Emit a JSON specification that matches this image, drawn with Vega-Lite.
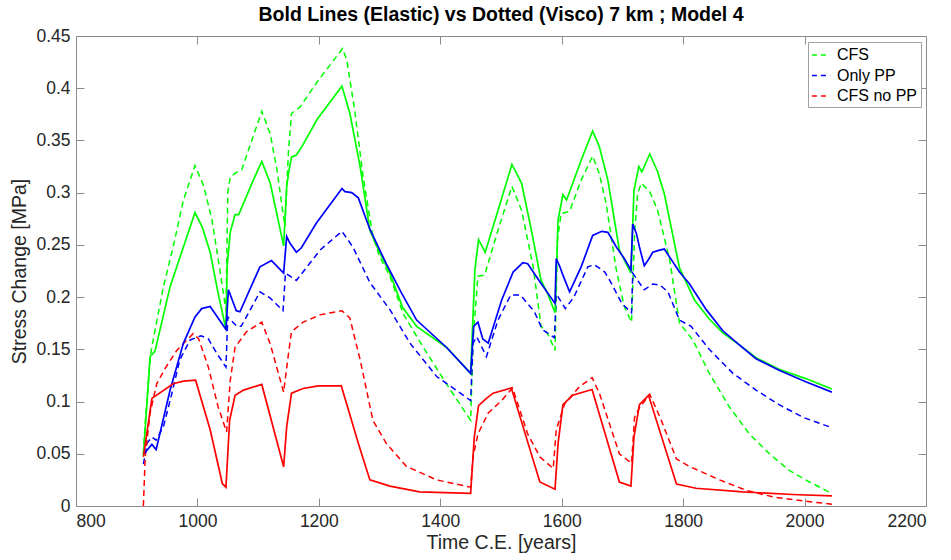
{
  "$schema": "https://vega.github.io/schema/vega-lite/v6.json",
  "width": 850,
  "height": 470,
  "autosize": {"type": "none"},
  "padding": {"left": 76, "top": 36, "right": 25, "bottom": 54},
  "background": "white",
  "title": {
    "text": "Bold Lines (Elastic) vs Dotted (Visco) 7 km ; Model 4",
    "font": "Liberation Sans",
    "fontSize": 19.5,
    "fontWeight": "bold",
    "color": "black",
    "anchor": "middle",
    "offset": 2
  },
  "config": {
    "font": "Liberation Sans",
    "view": {"stroke": "#8c8c8c", "strokeWidth": 1},
    "axis": {
      "grid": false,
      "domain": false,
      "tickColor": "#8c8c8c",
      "tickSize": -8,
      "labelFont": "Liberation Sans",
      "labelFontSize": 17.5,
      "labelColor": "#262626",
      "titleFont": "Liberation Sans",
      "titleFontSize": 19.5,
      "titleFontWeight": "normal",
      "titleColor": "#262626"
    }
  },
  "data": {
    "values": [
      {"s":"CFS","k":"Visco","t":911,"v":0.05},{"s":"CFS","k":"Visco","t":914,"v":0.08},{"s":"CFS","k":"Visco","t":923,"v":0.146},{"s":"CFS","k":"Visco","t":928,"v":0.162},{"s":"CFS","k":"Visco","t":944,"v":0.21},{"s":"CFS","k":"Visco","t":960,"v":0.248},{"s":"CFS","k":"Visco","t":977,"v":0.293},{"s":"CFS","k":"Visco","t":996,"v":0.326},{"s":"CFS","k":"Visco","t":1010,"v":0.307},{"s":"CFS","k":"Visco","t":1024,"v":0.274},{"s":"CFS","k":"Visco","t":1037,"v":0.226},{"s":"CFS","k":"Visco","t":1047,"v":0.187},{"s":"CFS","k":"Visco","t":1050,"v":0.3},{"s":"CFS","k":"Visco","t":1054,"v":0.315},{"s":"CFS","k":"Visco","t":1063,"v":0.319},{"s":"CFS","k":"Visco","t":1073,"v":0.322},{"s":"CFS","k":"Visco","t":1106,"v":0.378},{"s":"CFS","k":"Visco","t":1120,"v":0.356},{"s":"CFS","k":"Visco","t":1131,"v":0.322},{"s":"CFS","k":"Visco","t":1141,"v":0.28},{"s":"CFS","k":"Visco","t":1144,"v":0.268},{"s":"CFS","k":"Visco","t":1150,"v":0.34},{"s":"CFS","k":"Visco","t":1155,"v":0.376},{"s":"CFS","k":"Visco","t":1169,"v":0.382},{"s":"CFS","k":"Visco","t":1196,"v":0.405},{"s":"CFS","k":"Visco","t":1239,"v":0.438},{"s":"CFS","k":"Visco","t":1246,"v":0.427},{"s":"CFS","k":"Visco","t":1259,"v":0.379},{"s":"CFS","k":"Visco","t":1273,"v":0.315},{"s":"CFS","k":"Visco","t":1289,"v":0.258},{"s":"CFS","k":"Visco","t":1300,"v":0.239},{"s":"CFS","k":"Visco","t":1317,"v":0.22},{"s":"CFS","k":"Visco","t":1339,"v":0.184},{"s":"CFS","k":"Visco","t":1372,"v":0.152},{"s":"CFS","k":"Visco","t":1410,"v":0.117},{"s":"CFS","k":"Visco","t":1450,"v":0.082},{"s":"CFS","k":"Visco","t":1454,"v":0.159},{"s":"CFS","k":"Visco","t":1462,"v":0.22},{"s":"CFS","k":"Visco","t":1473,"v":0.221},{"s":"CFS","k":"Visco","t":1495,"v":0.264},{"s":"CFS","k":"Visco","t":1518,"v":0.306},{"s":"CFS","k":"Visco","t":1534,"v":0.283},{"s":"CFS","k":"Visco","t":1553,"v":0.229},{"s":"CFS","k":"Visco","t":1566,"v":0.172},{"s":"CFS","k":"Visco","t":1577,"v":0.165},{"s":"CFS","k":"Visco","t":1589,"v":0.149},{"s":"CFS","k":"Visco","t":1593,"v":0.255},{"s":"CFS","k":"Visco","t":1599,"v":0.28},{"s":"CFS","k":"Visco","t":1613,"v":0.282},{"s":"CFS","k":"Visco","t":1632,"v":0.312},{"s":"CFS","k":"Visco","t":1651,"v":0.335},{"s":"CFS","k":"Visco","t":1662,"v":0.318},{"s":"CFS","k":"Visco","t":1673,"v":0.29},{"s":"CFS","k":"Visco","t":1690,"v":0.226},{"s":"CFS","k":"Visco","t":1703,"v":0.191},{"s":"CFS","k":"Visco","t":1715,"v":0.176},{"s":"CFS","k":"Visco","t":1720,"v":0.261},{"s":"CFS","k":"Visco","t":1725,"v":0.299},{"s":"CFS","k":"Visco","t":1731,"v":0.309},{"s":"CFS","k":"Visco","t":1745,"v":0.301},{"s":"CFS","k":"Visco","t":1758,"v":0.283},{"s":"CFS","k":"Visco","t":1778,"v":0.235},{"s":"CFS","k":"Visco","t":1794,"v":0.175},{"s":"CFS","k":"Visco","t":1816,"v":0.159},{"s":"CFS","k":"Visco","t":1843,"v":0.127},{"s":"CFS","k":"Visco","t":1876,"v":0.095},{"s":"CFS","k":"Visco","t":1909,"v":0.069},{"s":"CFS","k":"Visco","t":1942,"v":0.05},{"s":"CFS","k":"Visco","t":1975,"v":0.034},{"s":"CFS","k":"Visco","t":2008,"v":0.023},{"s":"CFS","k":"Visco","t":2045,"v":0.012},

      {"s":"Only PP","k":"Visco","t":911,"v":0.04},{"s":"Only PP","k":"Visco","t":917,"v":0.06},{"s":"Only PP","k":"Visco","t":925,"v":0.066},{"s":"Only PP","k":"Visco","t":932,"v":0.063},{"s":"Only PP","k":"Visco","t":944,"v":0.076},{"s":"Only PP","k":"Visco","t":958,"v":0.108},{"s":"Only PP","k":"Visco","t":971,"v":0.14},{"s":"Only PP","k":"Visco","t":988,"v":0.159},{"s":"Only PP","k":"Visco","t":1006,"v":0.163},{"s":"Only PP","k":"Visco","t":1018,"v":0.16},{"s":"Only PP","k":"Visco","t":1032,"v":0.146},{"s":"Only PP","k":"Visco","t":1047,"v":0.133},{"s":"Only PP","k":"Visco","t":1050,"v":0.181},{"s":"Only PP","k":"Visco","t":1065,"v":0.172},{"s":"Only PP","k":"Visco","t":1072,"v":0.172},{"s":"Only PP","k":"Visco","t":1103,"v":0.205},{"s":"Only PP","k":"Visco","t":1120,"v":0.199},{"s":"Only PP","k":"Visco","t":1141,"v":0.187},{"s":"Only PP","k":"Visco","t":1145,"v":0.223},{"s":"Only PP","k":"Visco","t":1163,"v":0.216},{"s":"Only PP","k":"Visco","t":1202,"v":0.245},{"s":"Only PP","k":"Visco","t":1238,"v":0.263},{"s":"Only PP","k":"Visco","t":1256,"v":0.248},{"s":"Only PP","k":"Visco","t":1284,"v":0.214},{"s":"Only PP","k":"Visco","t":1317,"v":0.188},{"s":"Only PP","k":"Visco","t":1350,"v":0.156},{"s":"Only PP","k":"Visco","t":1394,"v":0.124},{"s":"Only PP","k":"Visco","t":1450,"v":0.101},{"s":"Only PP","k":"Visco","t":1454,"v":0.156},{"s":"Only PP","k":"Visco","t":1460,"v":0.162},{"s":"Only PP","k":"Visco","t":1476,"v":0.143},{"s":"Only PP","k":"Visco","t":1495,"v":0.178},{"s":"Only PP","k":"Visco","t":1516,"v":0.202},{"s":"Only PP","k":"Visco","t":1532,"v":0.202},{"s":"Only PP","k":"Visco","t":1555,"v":0.186},{"s":"Only PP","k":"Visco","t":1568,"v":0.169},{"s":"Only PP","k":"Visco","t":1588,"v":0.161},{"s":"Only PP","k":"Visco","t":1591,"v":0.203},{"s":"Only PP","k":"Visco","t":1606,"v":0.189},{"s":"Only PP","k":"Visco","t":1620,"v":0.2},{"s":"Only PP","k":"Visco","t":1643,"v":0.229},{"s":"Only PP","k":"Visco","t":1654,"v":0.231},{"s":"Only PP","k":"Visco","t":1671,"v":0.224},{"s":"Only PP","k":"Visco","t":1682,"v":0.213},{"s":"Only PP","k":"Visco","t":1699,"v":0.194},{"s":"Only PP","k":"Visco","t":1715,"v":0.185},{"s":"Only PP","k":"Visco","t":1717,"v":0.223},{"s":"Only PP","k":"Visco","t":1725,"v":0.216},{"s":"Only PP","k":"Visco","t":1736,"v":0.207},{"s":"Only PP","k":"Visco","t":1750,"v":0.2125},{"s":"Only PP","k":"Visco","t":1762,"v":0.2115},{"s":"Only PP","k":"Visco","t":1775,"v":0.205},{"s":"Only PP","k":"Visco","t":1794,"v":0.178},{"s":"Only PP","k":"Visco","t":1813,"v":0.172},{"s":"Only PP","k":"Visco","t":1843,"v":0.15},{"s":"Only PP","k":"Visco","t":1882,"v":0.127},{"s":"Only PP","k":"Visco","t":1920,"v":0.111},{"s":"Only PP","k":"Visco","t":1958,"v":0.097},{"s":"Only PP","k":"Visco","t":1997,"v":0.085},{"s":"Only PP","k":"Visco","t":2045,"v":0.075},

      {"s":"CFS no PP","k":"Visco","t":911,"v":0.0},{"s":"CFS no PP","k":"Visco","t":914,"v":0.047},{"s":"CFS no PP","k":"Visco","t":922,"v":0.089},{"s":"CFS no PP","k":"Visco","t":933,"v":0.117},{"s":"CFS no PP","k":"Visco","t":947,"v":0.132},{"s":"CFS no PP","k":"Visco","t":966,"v":0.149},{"s":"CFS no PP","k":"Visco","t":993,"v":0.165},{"s":"CFS no PP","k":"Visco","t":1002,"v":0.16},{"s":"CFS no PP","k":"Visco","t":1018,"v":0.133},{"s":"CFS no PP","k":"Visco","t":1034,"v":0.095},{"s":"CFS no PP","k":"Visco","t":1048,"v":0.071},{"s":"CFS no PP","k":"Visco","t":1054,"v":0.12},{"s":"CFS no PP","k":"Visco","t":1062,"v":0.152},{"s":"CFS no PP","k":"Visco","t":1081,"v":0.167},{"s":"CFS no PP","k":"Visco","t":1106,"v":0.176},{"s":"CFS no PP","k":"Visco","t":1120,"v":0.155},{"s":"CFS no PP","k":"Visco","t":1142,"v":0.109},{"s":"CFS no PP","k":"Visco","t":1150,"v":0.146},{"s":"CFS no PP","k":"Visco","t":1155,"v":0.167},{"s":"CFS no PP","k":"Visco","t":1174,"v":0.176},{"s":"CFS no PP","k":"Visco","t":1202,"v":0.183},{"s":"CFS no PP","k":"Visco","t":1238,"v":0.187},{"s":"CFS no PP","k":"Visco","t":1251,"v":0.18},{"s":"CFS no PP","k":"Visco","t":1268,"v":0.14},{"s":"CFS no PP","k":"Visco","t":1289,"v":0.082},{"s":"CFS no PP","k":"Visco","t":1311,"v":0.06},{"s":"CFS no PP","k":"Visco","t":1344,"v":0.038},{"s":"CFS no PP","k":"Visco","t":1394,"v":0.025},{"s":"CFS no PP","k":"Visco","t":1450,"v":0.018},{"s":"CFS no PP","k":"Visco","t":1454,"v":0.047},{"s":"CFS no PP","k":"Visco","t":1462,"v":0.069},{"s":"CFS no PP","k":"Visco","t":1479,"v":0.089},{"s":"CFS no PP","k":"Visco","t":1501,"v":0.101},{"s":"CFS no PP","k":"Visco","t":1519,"v":0.113},{"s":"CFS no PP","k":"Visco","t":1544,"v":0.069},{"s":"CFS no PP","k":"Visco","t":1564,"v":0.047},{"s":"CFS no PP","k":"Visco","t":1586,"v":0.036},{"s":"CFS no PP","k":"Visco","t":1591,"v":0.073},{"s":"CFS no PP","k":"Visco","t":1605,"v":0.098},{"s":"CFS no PP","k":"Visco","t":1629,"v":0.114},{"s":"CFS no PP","k":"Visco","t":1650,"v":0.123},{"s":"CFS no PP","k":"Visco","t":1662,"v":0.108},{"s":"CFS no PP","k":"Visco","t":1695,"v":0.05},{"s":"CFS no PP","k":"Visco","t":1715,"v":0.041},{"s":"CFS no PP","k":"Visco","t":1720,"v":0.085},{"s":"CFS no PP","k":"Visco","t":1728,"v":0.094},{"s":"CFS no PP","k":"Visco","t":1745,"v":0.107},{"s":"CFS no PP","k":"Visco","t":1764,"v":0.082},{"s":"CFS no PP","k":"Visco","t":1789,"v":0.045},{"s":"CFS no PP","k":"Visco","t":1810,"v":0.038},{"s":"CFS no PP","k":"Visco","t":1860,"v":0.025},{"s":"CFS no PP","k":"Visco","t":1904,"v":0.015},{"s":"CFS no PP","k":"Visco","t":1948,"v":0.0087},{"s":"CFS no PP","k":"Visco","t":1997,"v":0.0049},{"s":"CFS no PP","k":"Visco","t":2045,"v":0.0017},

      {"s":"CFS","k":"Elastic","t":911,"v":0.048},{"s":"CFS","k":"Elastic","t":922,"v":0.143},{"s":"CFS","k":"Elastic","t":930,"v":0.148},{"s":"CFS","k":"Elastic","t":955,"v":0.21},{"s":"CFS","k":"Elastic","t":974,"v":0.243},{"s":"CFS","k":"Elastic","t":996,"v":0.281},{"s":"CFS","k":"Elastic","t":1008,"v":0.267},{"s":"CFS","k":"Elastic","t":1021,"v":0.243},{"s":"CFS","k":"Elastic","t":1034,"v":0.204},{"s":"CFS","k":"Elastic","t":1047,"v":0.169},{"s":"CFS","k":"Elastic","t":1049,"v":0.23},{"s":"CFS","k":"Elastic","t":1054,"v":0.262},{"s":"CFS","k":"Elastic","t":1062,"v":0.279},{"s":"CFS","k":"Elastic","t":1068,"v":0.279},{"s":"CFS","k":"Elastic","t":1092,"v":0.312},{"s":"CFS","k":"Elastic","t":1106,"v":0.33},{"s":"CFS","k":"Elastic","t":1120,"v":0.309},{"s":"CFS","k":"Elastic","t":1142,"v":0.249},{"s":"CFS","k":"Elastic","t":1147,"v":0.306},{"s":"CFS","k":"Elastic","t":1151,"v":0.322},{"s":"CFS","k":"Elastic","t":1155,"v":0.334},{"s":"CFS","k":"Elastic","t":1163,"v":0.336},{"s":"CFS","k":"Elastic","t":1174,"v":0.346},{"s":"CFS","k":"Elastic","t":1197,"v":0.37},{"s":"CFS","k":"Elastic","t":1238,"v":0.402},{"s":"CFS","k":"Elastic","t":1251,"v":0.376},{"s":"CFS","k":"Elastic","t":1268,"v":0.325},{"s":"CFS","k":"Elastic","t":1284,"v":0.264},{"s":"CFS","k":"Elastic","t":1300,"v":0.243},{"s":"CFS","k":"Elastic","t":1317,"v":0.223},{"s":"CFS","k":"Elastic","t":1338,"v":0.19},{"s":"CFS","k":"Elastic","t":1361,"v":0.172},{"s":"CFS","k":"Elastic","t":1410,"v":0.152},{"s":"CFS","k":"Elastic","t":1450,"v":0.127},{"s":"CFS","k":"Elastic","t":1457,"v":0.226},{"s":"CFS","k":"Elastic","t":1463,"v":0.255},{"s":"CFS","k":"Elastic","t":1474,"v":0.243},{"s":"CFS","k":"Elastic","t":1495,"v":0.283},{"s":"CFS","k":"Elastic","t":1518,"v":0.327},{"s":"CFS","k":"Elastic","t":1534,"v":0.309},{"s":"CFS","k":"Elastic","t":1550,"v":0.264},{"s":"CFS","k":"Elastic","t":1566,"v":0.216},{"s":"CFS","k":"Elastic","t":1577,"v":0.203},{"s":"CFS","k":"Elastic","t":1589,"v":0.185},{"s":"CFS","k":"Elastic","t":1594,"v":0.274},{"s":"CFS","k":"Elastic","t":1602,"v":0.298},{"s":"CFS","k":"Elastic","t":1608,"v":0.293},{"s":"CFS","k":"Elastic","t":1632,"v":0.331},{"s":"CFS","k":"Elastic","t":1651,"v":0.359},{"s":"CFS","k":"Elastic","t":1662,"v":0.344},{"s":"CFS","k":"Elastic","t":1676,"v":0.312},{"s":"CFS","k":"Elastic","t":1695,"v":0.245},{"s":"CFS","k":"Elastic","t":1714,"v":0.223},{"s":"CFS","k":"Elastic","t":1719,"v":0.302},{"s":"CFS","k":"Elastic","t":1727,"v":0.325},{"s":"CFS","k":"Elastic","t":1732,"v":0.32},{"s":"CFS","k":"Elastic","t":1745,"v":0.337},{"s":"CFS","k":"Elastic","t":1758,"v":0.32},{"s":"CFS","k":"Elastic","t":1769,"v":0.299},{"s":"CFS","k":"Elastic","t":1794,"v":0.228},{"s":"CFS","k":"Elastic","t":1819,"v":0.197},{"s":"CFS","k":"Elastic","t":1843,"v":0.179},{"s":"CFS","k":"Elastic","t":1865,"v":0.166},{"s":"CFS","k":"Elastic","t":1893,"v":0.154},{"s":"CFS","k":"Elastic","t":1920,"v":0.142},{"s":"CFS","k":"Elastic","t":1958,"v":0.131},{"s":"CFS","k":"Elastic","t":2002,"v":0.122},{"s":"CFS","k":"Elastic","t":2045,"v":0.112},

      {"s":"Only PP","k":"Elastic","t":912,"v":0.05},{"s":"Only PP","k":"Elastic","t":925,"v":0.059},{"s":"Only PP","k":"Elastic","t":932,"v":0.054},{"s":"Only PP","k":"Elastic","t":955,"v":0.111},{"s":"Only PP","k":"Elastic","t":977,"v":0.156},{"s":"Only PP","k":"Elastic","t":996,"v":0.181},{"s":"Only PP","k":"Elastic","t":1007,"v":0.189},{"s":"Only PP","k":"Elastic","t":1021,"v":0.191},{"s":"Only PP","k":"Elastic","t":1047,"v":0.169},{"s":"Only PP","k":"Elastic","t":1051,"v":0.207},{"s":"Only PP","k":"Elastic","t":1064,"v":0.187},{"s":"Only PP","k":"Elastic","t":1070,"v":0.186},{"s":"Only PP","k":"Elastic","t":1103,"v":0.229},{"s":"Only PP","k":"Elastic","t":1122,"v":0.235},{"s":"Only PP","k":"Elastic","t":1142,"v":0.223},{"s":"Only PP","k":"Elastic","t":1147,"v":0.258},{"s":"Only PP","k":"Elastic","t":1152,"v":0.252},{"s":"Only PP","k":"Elastic","t":1163,"v":0.243},{"s":"Only PP","k":"Elastic","t":1171,"v":0.247},{"s":"Only PP","k":"Elastic","t":1196,"v":0.271},{"s":"Only PP","k":"Elastic","t":1238,"v":0.304},{"s":"Only PP","k":"Elastic","t":1243,"v":0.301},{"s":"Only PP","k":"Elastic","t":1254,"v":0.3},{"s":"Only PP","k":"Elastic","t":1265,"v":0.295},{"s":"Only PP","k":"Elastic","t":1284,"v":0.265},{"s":"Only PP","k":"Elastic","t":1311,"v":0.232},{"s":"Only PP","k":"Elastic","t":1336,"v":0.204},{"s":"Only PP","k":"Elastic","t":1361,"v":0.178},{"s":"Only PP","k":"Elastic","t":1410,"v":0.152},{"s":"Only PP","k":"Elastic","t":1450,"v":0.127},{"s":"Only PP","k":"Elastic","t":1455,"v":0.172},{"s":"Only PP","k":"Elastic","t":1462,"v":0.176},{"s":"Only PP","k":"Elastic","t":1470,"v":0.16},{"s":"Only PP","k":"Elastic","t":1479,"v":0.156},{"s":"Only PP","k":"Elastic","t":1501,"v":0.197},{"s":"Only PP","k":"Elastic","t":1520,"v":0.224},{"s":"Only PP","k":"Elastic","t":1536,"v":0.233},{"s":"Only PP","k":"Elastic","t":1544,"v":0.232},{"s":"Only PP","k":"Elastic","t":1566,"v":0.213},{"s":"Only PP","k":"Elastic","t":1589,"v":0.194},{"s":"Only PP","k":"Elastic","t":1591,"v":0.237},{"s":"Only PP","k":"Elastic","t":1597,"v":0.229},{"s":"Only PP","k":"Elastic","t":1602,"v":0.221},{"s":"Only PP","k":"Elastic","t":1613,"v":0.205},{"s":"Only PP","k":"Elastic","t":1632,"v":0.229},{"s":"Only PP","k":"Elastic","t":1651,"v":0.259},{"s":"Only PP","k":"Elastic","t":1666,"v":0.263},{"s":"Only PP","k":"Elastic","t":1676,"v":0.262},{"s":"Only PP","k":"Elastic","t":1690,"v":0.248},{"s":"Only PP","k":"Elastic","t":1703,"v":0.237},{"s":"Only PP","k":"Elastic","t":1714,"v":0.226},{"s":"Only PP","k":"Elastic","t":1717,"v":0.27},{"s":"Only PP","k":"Elastic","t":1723,"v":0.261},{"s":"Only PP","k":"Elastic","t":1728,"v":0.248},{"s":"Only PP","k":"Elastic","t":1736,"v":0.23},{"s":"Only PP","k":"Elastic","t":1744,"v":0.237},{"s":"Only PP","k":"Elastic","t":1750,"v":0.243},{"s":"Only PP","k":"Elastic","t":1761,"v":0.245},{"s":"Only PP","k":"Elastic","t":1769,"v":0.246},{"s":"Only PP","k":"Elastic","t":1794,"v":0.224},{"s":"Only PP","k":"Elastic","t":1810,"v":0.213},{"s":"Only PP","k":"Elastic","t":1838,"v":0.188},{"s":"Only PP","k":"Elastic","t":1865,"v":0.168},{"s":"Only PP","k":"Elastic","t":1893,"v":0.154},{"s":"Only PP","k":"Elastic","t":1920,"v":0.141},{"s":"Only PP","k":"Elastic","t":1958,"v":0.13},{"s":"Only PP","k":"Elastic","t":2002,"v":0.119},{"s":"Only PP","k":"Elastic","t":2045,"v":0.109},

      {"s":"CFS no PP","k":"Elastic","t":911,"v":0.047},{"s":"CFS no PP","k":"Elastic","t":925,"v":0.103},{"s":"CFS no PP","k":"Elastic","t":960,"v":0.117},{"s":"CFS no PP","k":"Elastic","t":977,"v":0.1195},{"s":"CFS no PP","k":"Elastic","t":997,"v":0.1205},{"s":"CFS no PP","k":"Elastic","t":1021,"v":0.073},{"s":"CFS no PP","k":"Elastic","t":1041,"v":0.0215},{"s":"CFS no PP","k":"Elastic","t":1047,"v":0.018},{"s":"CFS no PP","k":"Elastic","t":1053,"v":0.082},{"s":"CFS no PP","k":"Elastic","t":1062,"v":0.106},{"s":"CFS no PP","k":"Elastic","t":1076,"v":0.111},{"s":"CFS no PP","k":"Elastic","t":1106,"v":0.1164},{"s":"CFS no PP","k":"Elastic","t":1142,"v":0.0375},{"s":"CFS no PP","k":"Elastic","t":1147,"v":0.076},{"s":"CFS no PP","k":"Elastic","t":1155,"v":0.108},{"s":"CFS no PP","k":"Elastic","t":1174,"v":0.1125},{"s":"CFS no PP","k":"Elastic","t":1199,"v":0.115},{"s":"CFS no PP","k":"Elastic","t":1237,"v":0.115},{"s":"CFS no PP","k":"Elastic","t":1265,"v":0.06},{"s":"CFS no PP","k":"Elastic","t":1284,"v":0.025},{"s":"CFS no PP","k":"Elastic","t":1317,"v":0.019},{"s":"CFS no PP","k":"Elastic","t":1366,"v":0.0135},{"s":"CFS no PP","k":"Elastic","t":1450,"v":0.012},{"s":"CFS no PP","k":"Elastic","t":1456,"v":0.066},{"s":"CFS no PP","k":"Elastic","t":1463,"v":0.096},{"s":"CFS no PP","k":"Elastic","t":1476,"v":0.103},{"s":"CFS no PP","k":"Elastic","t":1487,"v":0.108},{"s":"CFS no PP","k":"Elastic","t":1517,"v":0.113},{"s":"CFS no PP","k":"Elastic","t":1564,"v":0.023},{"s":"CFS no PP","k":"Elastic","t":1589,"v":0.016},{"s":"CFS no PP","k":"Elastic","t":1594,"v":0.06},{"s":"CFS no PP","k":"Elastic","t":1602,"v":0.097},{"s":"CFS no PP","k":"Elastic","t":1618,"v":0.106},{"s":"CFS no PP","k":"Elastic","t":1650,"v":0.1116},{"s":"CFS no PP","k":"Elastic","t":1695,"v":0.023},{"s":"CFS no PP","k":"Elastic","t":1714,"v":0.019},{"s":"CFS no PP","k":"Elastic","t":1719,"v":0.066},{"s":"CFS no PP","k":"Elastic","t":1728,"v":0.097},{"s":"CFS no PP","k":"Elastic","t":1743,"v":0.106},{"s":"CFS no PP","k":"Elastic","t":1789,"v":0.021},{"s":"CFS no PP","k":"Elastic","t":1821,"v":0.017},{"s":"CFS no PP","k":"Elastic","t":1898,"v":0.0135},{"s":"CFS no PP","k":"Elastic","t":1980,"v":0.011},{"s":"CFS no PP","k":"Elastic","t":2045,"v":0.0097}
    ]
  },
  "layer": [
    {
      "layer": [
        {
          "transform": [{"filter": "datum.k === 'Visco'"}],
          "mark": {"type": "line", "strokeWidth": 1.5, "strokeDash": [6, 4], "clip": true},
          "encoding": {
            "x": {
              "field": "t", "type": "quantitative",
              "scale": {"domain": [800, 2200], "nice": false, "zero": false},
              "axis": {"orient": "bottom", "values": [800, 1000, 1200, 1400, 1600, 1800, 2000, 2200], "format": "d", "labelPadding": 14, "title": "Time C.E. [years]", "titlePadding": 4}
            },
            "y": {
              "field": "v", "type": "quantitative",
              "scale": {"domain": [0, 0.45], "nice": false},
              "axis": {"orient": "left", "values": [0, 0.05, 0.1, 0.15, 0.2, 0.25, 0.3, 0.35, 0.4, 0.45], "format": "~g", "labelPadding": 14, "title": "Stress Change [MPa]", "titlePadding": 6}
            },
            "color": {
              "field": "s", "type": "nominal",
              "scale": {"domain": ["CFS", "Only PP", "CFS no PP"], "range": ["#00ff00", "#0000ff", "#ff0000"]},
              "legend": {
                "orient": "none", "legendX": 732, "legendY": 6, "title": null,
                "symbolType": "stroke", "symbolDash": [5, 4], "symbolStrokeWidth": 1.5, "symbolSize": 330,
                "labelFont": "Liberation Sans", "labelFontSize": 16, "labelColor": "black", "labelOffset": 6,
                "strokeColor": "#a0a0a0", "fillColor": "white", "padding": 3, "rowPadding": 2.5
              }
            }
          }
        },
        {
          "transform": [{"filter": "datum.k === 'Elastic'"}],
          "mark": {"type": "line", "strokeWidth": 1.7, "clip": true},
          "encoding": {
            "x": {"field": "t", "type": "quantitative", "scale": {"domain": [800, 2200], "nice": false, "zero": false}},
            "y": {"field": "v", "type": "quantitative", "scale": {"domain": [0, 0.45], "nice": false}},
            "color": {"field": "s", "type": "nominal", "scale": {"domain": ["CFS", "Only PP", "CFS no PP"], "range": ["#00ff00", "#0000ff", "#ff0000"]}}
          }
        }
      ]
    },
    {
      "mark": {"type": "point", "opacity": 0},
      "encoding": {
        "x": {
          "field": "t", "type": "quantitative",
          "scale": {"domain": [800, 2200], "nice": false, "zero": false},
          "axis": {"orient": "top", "values": [800, 1000, 1200, 1400, 1600, 1800, 2000, 2200], "labels": false, "title": null}
        },
        "y": {
          "field": "v", "type": "quantitative",
          "scale": {"domain": [0, 0.45], "nice": false},
          "axis": {"orient": "right", "values": [0, 0.05, 0.1, 0.15, 0.2, 0.25, 0.3, 0.35, 0.4, 0.45], "labels": false, "title": null}
        }
      }
    }
  ],
  "resolve": {"axis": {"x": "independent", "y": "independent"}}
}
